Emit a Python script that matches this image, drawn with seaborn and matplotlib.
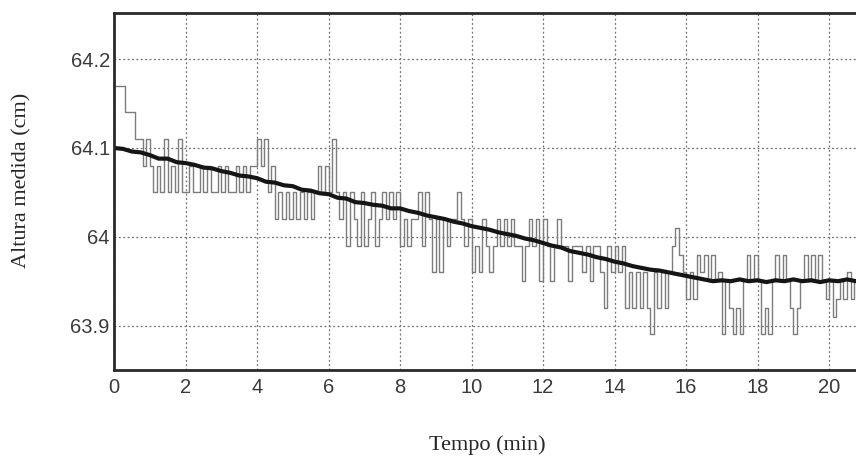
import numpy as np
import pandas as pd
import seaborn as sns
import matplotlib.pyplot as plt

# sinal medido (cm), amostrado a cada 0.1 min
t_medido = np.round(np.arange(0, 211) * 0.1, 1)
altura_medida = [
    64.17, 64.17, 64.17, 64.14, 64.14, 64.14, 64.11, 64.11, 64.08, 64.11,
    64.08, 64.05, 64.08, 64.05, 64.11, 64.05, 64.08, 64.05, 64.11, 64.05,
    64.05, 64.08, 64.05, 64.05, 64.08, 64.05, 64.08, 64.05, 64.05, 64.08,
    64.05, 64.08, 64.05, 64.05, 64.08, 64.05, 64.08, 64.05, 64.08, 64.08,
    64.11, 64.08, 64.11, 64.05, 64.08, 64.02, 64.05, 64.02, 64.05, 64.02,
    64.05, 64.02, 64.05, 64.02, 64.05, 64.02, 64.05, 64.08, 64.05, 64.08,
    64.05, 64.11, 64.05, 64.02, 64.05, 63.99, 64.05, 64.02, 63.99, 64.05,
    63.99, 64.02, 64.05, 63.99, 64.02, 64.05, 64.02, 64.05, 64.02, 64.05,
    63.99, 64.02, 63.99, 64.02, 64.02, 64.05, 63.99, 64.05, 64.02, 63.96,
    64.02, 63.96, 64.02, 63.99, 64.02, 64.02, 64.05, 64.02, 63.99, 64.02,
    63.96, 63.99, 63.96, 64.02, 63.99, 63.96, 63.99, 64.02, 63.99, 64.02,
    63.99, 64.02, 63.99, 63.99, 63.95, 63.99, 64.02, 63.99, 64.02, 63.95,
    64.02, 63.99, 63.95, 63.99, 64.02, 63.99, 63.99, 63.95, 63.99, 63.99,
    63.99, 63.96, 63.99, 63.95, 63.99, 63.99, 63.96, 63.92, 63.99, 63.96,
    63.99, 63.96, 63.99, 63.92, 63.96, 63.92, 63.96, 63.92, 63.96, 63.92,
    63.89, 63.96, 63.92, 63.96, 63.92, 63.96, 63.99, 64.01, 63.98, 63.96,
    63.93, 63.96, 63.93, 63.98, 63.96, 63.98, 63.95, 63.98, 63.95, 63.96,
    63.89, 63.95, 63.92, 63.89, 63.92, 63.89, 63.95, 63.98, 63.95, 63.98,
    63.95, 63.89, 63.92, 63.89, 63.95, 63.98, 63.95, 63.98, 63.95, 63.92,
    63.89, 63.92, 63.95, 63.98, 63.95, 63.98, 63.95, 63.98, 63.95, 63.93,
    63.95, 63.91, 63.93, 63.95, 63.93, 63.96, 63.93, 63.95, 63.93, 63.95,
    63.95,
]

# altura estimada (linha preta), a cada 0.25 min
t_estimado = np.round(np.arange(0, 85) * 0.25, 2)
altura_estimada = [
    64.100, 64.099, 64.096, 64.095, 64.092, 64.088, 64.088, 64.084,
    64.083, 64.081, 64.078, 64.077, 64.074, 64.072, 64.069, 64.068,
    64.066, 64.062, 64.061, 64.058, 64.057, 64.053, 64.052, 64.049,
    64.048, 64.044, 64.043, 64.039, 64.038, 64.036, 64.035, 64.032,
    64.032, 64.029, 64.027, 64.024, 64.022, 64.020, 64.017, 64.015,
    64.012, 64.010, 64.008, 64.005, 64.003, 64.001, 63.998, 63.996,
    63.993, 63.990, 63.988, 63.984, 63.982, 63.980, 63.977, 63.975,
    63.972, 63.970, 63.967, 63.965, 63.963, 63.962, 63.960, 63.958,
    63.956, 63.954, 63.952, 63.950, 63.951, 63.950, 63.952, 63.950,
    63.951, 63.949, 63.951, 63.950, 63.952, 63.950, 63.951, 63.949,
    63.951, 63.950, 63.952, 63.950, 63.951,
]

xticks = [0, 2, 4, 6, 8, 10, 12, 14, 16, 18, 20]
yticks = [63.9, 64.0, 64.1, 64.2]
ytick_labels = ["63.9", "64", "64.1", "64.2"]

df_med = pd.DataFrame({"t": t_medido, "h": altura_medida})
df_est = pd.DataFrame({"t": t_estimado, "h": altura_estimada})

sns.set_style("white")
plt.rcParams['font.family'] = ['Liberation Sans', 'DejaVu Sans']

fig = plt.figure(figsize=(8.56, 4.59), dpi=100)
ax = fig.add_axes([0.1332, 0.1939, 0.8855, 0.7778])

sns.lineplot(data=df_med, x="t", y="h", ax=ax, color="#7c7c7c",
             linewidth=1.0, drawstyle="steps-post")
sns.lineplot(data=df_est, x="t", y="h", ax=ax, color="#151515", linewidth=3.0)

ax.set_xlim(0, 21.2)
ax.set_ylim(63.85, 64.252)
ax.set_xticks(xticks)
ax.set_yticks(yticks)
ax.set_yticklabels(ytick_labels)
ax.set_xlabel("")
ax.set_ylabel("")

ax.grid(True, linestyle=(0, (1.5, 2)), color="#707070", linewidth=0.9)
ax.tick_params(axis="both", labelsize=14.5, labelcolor="#3a3a3a", length=3,
               direction="in", color="#333333")
ax.tick_params(axis="x", pad=6)
ax.tick_params(axis="y", pad=3)
for s in ["left", "bottom", "top"]:
    ax.spines[s].set_color("#2a2a2a")
    ax.spines[s].set_linewidth(2)
ax.spines["right"].set_visible(False)

fig.text(0.569, 0.030, "Tempo (min)", ha="center", va="center",
         fontsize=16, family=["Liberation Serif"])
fig.text(0.0257, 0.608, "Altura medida (cm)", ha="center", va="center",
         rotation=90, fontsize=16, family=["Liberation Serif"])

fig.savefig("out.png", dpi=100)
